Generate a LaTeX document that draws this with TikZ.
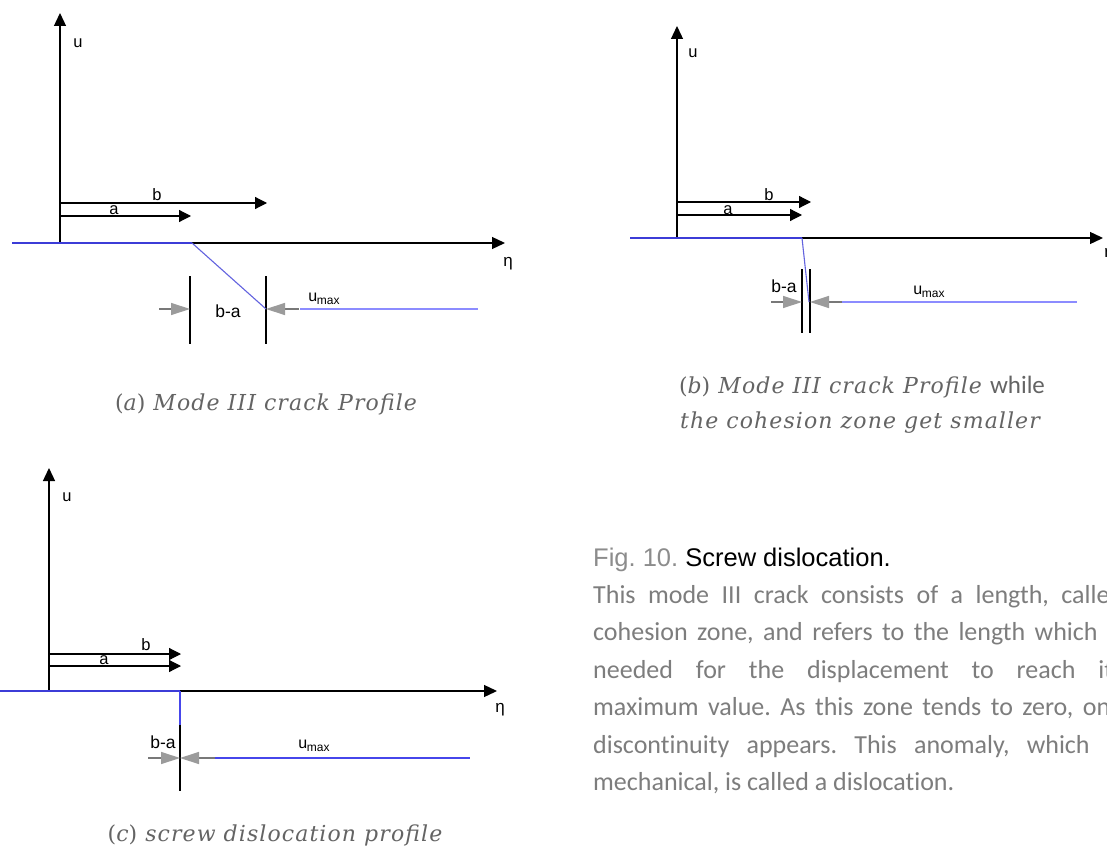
\documentclass[tikz,border=0pt]{standalone}
\usepackage{fontspec}
\newfontfamily\arialf{Liberation Sans}
\newfontfamily\calib[Ligatures=NoCommon]{Carlito}
\newfontfamily\capfont[LetterSpace=5]{DejaVu Serif}
\usetikzlibrary{arrows.meta}
\definecolor{dblue}{RGB}{60,60,215}
\definecolor{lblue}{RGB}{140,140,255}
\definecolor{mblue}{RGB}{70,70,235}
\definecolor{gtip}{RGB}{155,155,155}
\definecolor{gline}{RGB}{120,120,120}
\definecolor{captgrey}{RGB}{100,100,100}
\definecolor{bodygrey}{RGB}{125,125,125}
\definecolor{figgrey}{RGB}{140,140,140}
\tikzset{
  axisarr/.style={line width=1.3pt,-{Triangle[length=13pt,width=12pt]}},
  vecarr/.style={line width=1.2pt,-{Triangle[length=12pt,width=12pt]}},
  garr/.style={draw=gline,line width=1.3pt,-{Triangle[length=19pt,width=12pt,fill=gtip,color=gtip]}},
  tickline/.style={line width=1.3pt},
  crackline/.style={draw=dblue,line width=1.8pt},
  slopeline/.style={draw=dblue!80,line width=1.1pt},
  farline/.style={draw=lblue,line width=1.3pt},
  lbl/.style={font=\arialf\fontsize{16.5}{18}\selectfont,inner sep=0pt},
  etalbl/.style={font=\arialf\fontsize{17}{19}\selectfont,inner sep=0pt},
  balbl/.style={font=\arialf\fontsize{17.5}{19}\selectfont,inner sep=0pt},
  umaxlbl/.style={font=\arialf\fontsize{16}{18}\selectfont,inner sep=0pt},
  capt/.style={font=\capfont\itshape\fontsize{22}{24}\selectfont,text=captgrey,inner sep=0pt},
  bodyline/.style={font=\calib\fontsize{26}{30}\selectfont,text=bodygrey,inner sep=0pt,anchor=base west},
}
\newcommand{\umaxtext}{u\kern-0.5pt\raisebox{-3pt}{\fontsize{12}{13}\selectfont max}}
\newcommand{\cpar}[1]{{\upshape(}#1{\upshape)}}
\frenchspacing
\begin{document}
\begin{tikzpicture}[x=1pt,y=-1pt]
\path[use as bounding box] (0,0) rectangle (1107,850);
\clip (0,0) rectangle (1107,850);
\fill[white] (0,0) rectangle (1107,850);

% ---------------- panel (a)
\coordinate (aO) at (60,243);
\coordinate (aYt) at (60,13);
\coordinate (aXt) at (505,243);
\coordinate (aB0) at (60,203);
\coordinate (aBt) at (267,203);
\coordinate (aA0) at (60,216);
\coordinate (aAt) at (191,216);
\coordinate (aL) at (12,243);
\coordinate (aK) at (192,243);
\coordinate (aM) at (266,309);
\coordinate (aF0) at (300,309);
\coordinate (aF1) at (478,309);
\coordinate (aT1a) at (190,276);
\coordinate (aT1b) at (190,344);
\coordinate (aT2a) at (266,276);
\coordinate (aT2b) at (266,344);
\coordinate (aG1) at (159,309);
\coordinate (aG1t) at (190,309);
\coordinate (aG2) at (299,309);
\coordinate (aG2t) at (266,309);
\draw[axisarr] (aO) -- (aYt);
\draw[axisarr] (aO) -- (aXt);
\draw[vecarr] (aB0) -- (aBt);
\draw[vecarr] (aA0) -- (aAt);
\draw[tickline] (aT1a) -- (aT1b);
\draw[tickline] (aT2a) -- (aT2b);
\draw[crackline] (aL) -- (aK);
\draw[slopeline] (aK) -- (aM);
\draw[farline] (aF0) -- (aF1);
\draw[garr] (aG1) -- (aG1t);
\draw[garr] (aG2) -- (aG2t);
\node[lbl] (au) at (78,43) {u};
\node[etalbl] (aeta) at (508,264) {η};
\node[lbl] (ab) at (157,195) {b};
\node[lbl] (aa) at (114,210) {a};
\node[balbl] (aba) at (228,311) {b-a};
\node[umaxlbl] (aum) at (324,299) {\umaxtext};
\node[capt] (acap) at (266,404) {\cpar{a} Mode III crack Profile};

% ---------------- panel (b)
\coordinate (bO) at (677,238);
\coordinate (bYt) at (677,26);
\coordinate (bXt) at (1103,238);
\coordinate (bB0) at (677,202);
\coordinate (bBt) at (811,202);
\coordinate (bA0) at (677,215);
\coordinate (bAt) at (802,215);
\coordinate (bL) at (630,238);
\coordinate (bK) at (802,238);
\coordinate (bM) at (809,302);
\coordinate (bF0) at (842,302);
\coordinate (bF1) at (1077,302);
\coordinate (bT1a) at (802,269);
\coordinate (bT1b) at (802,333);
\coordinate (bT2a) at (810,269);
\coordinate (bT2b) at (810,333);
\coordinate (bG1) at (771,302);
\coordinate (bG1t) at (802,302);
\coordinate (bG2) at (842,302);
\coordinate (bG2t) at (810,302);
\draw[axisarr] (bO) -- (bYt);
\draw[axisarr] (bO) -- (bXt);
\draw[vecarr] (bB0) -- (bBt);
\draw[vecarr] (bA0) -- (bAt);
\draw[tickline] (bT1a) -- (bT1b);
\draw[tickline] (bT2a) -- (bT2b);
\draw[crackline] (bL) -- (bK);
\draw[slopeline] (bK) -- (bM);
\draw[farline] (bF0) -- (bF1);
\draw[garr] (bG1) -- (bG1t);
\draw[garr] (bG2) -- (bG2t);
\node[lbl] (bu) at (693,53) {u};
\node[etalbl] (beta) at (1109,255) {η};
\node[lbl] (bb) at (769,195) {b};
\node[lbl] (ba) at (728,210) {a};
\node[balbl] (bba) at (784,286) {b-a};
\node[umaxlbl] (bum) at (929,292) {\umaxtext};
\node[capt] (bcap1) at (862,387) {\cpar{b} Mode III crack Profile {\calib\upshape\fontsize{25}{26}\selectfont while}};
\node[capt] (bcap2) at (860,423) {the cohesion zone get smaller};

% ---------------- panel (c)
\coordinate (cO) at (49,691);
\coordinate (cYt) at (49,468);
\coordinate (cXt) at (497,691);
\coordinate (cB0) at (49,654);
\coordinate (cBt) at (181,654);
\coordinate (cA0) at (49,666);
\coordinate (cAt) at (181,666);
\coordinate (cL) at (0,691);
\coordinate (cK) at (180,691);
\coordinate (cM) at (180,725);
\coordinate (cTb) at (180,791);
\coordinate (cF0) at (215,758);
\coordinate (cF1) at (470,758);
\coordinate (cG1) at (148,758);
\coordinate (cG1t) at (180,758);
\coordinate (cG2) at (215,758);
\coordinate (cG2t) at (180,758);
\draw[axisarr] (cO) -- (cYt);
\draw[axisarr] (cO) -- (cXt);
\draw[vecarr] (cB0) -- (cBt);
\draw[vecarr] (cA0) -- (cAt);
\draw[tickline] (cM) -- (cTb);
\draw[crackline] (cL) -- (cK);
\draw[draw=mblue,line width=1.5pt] (cK) -- (cM);
\draw[draw=mblue,line width=1.5pt] (cF0) -- (cF1);
\draw[garr] (cG1) -- (cG1t);
\draw[garr] (cG2) -- (cG2t);
\node[lbl] (cu) at (67,497) {u};
\node[etalbl] (ceta) at (500,710) {η};
\node[lbl] (cb) at (146,645) {b};
\node[lbl] (ca) at (104,660) {a};
\node[balbl] (cba) at (163,742) {b-a};
\node[umaxlbl] (cum) at (314,746) {\umaxtext};
\node[capt] (ccap) at (275,835) {\cpar{c} screw dislocation profile};

% ---------------- figure text
\node[anchor=base west,inner sep=0pt,font=\arialf\fontsize{25.5}{28}\selectfont] (fig) at (593,566)
  {\textcolor{figgrey}{Fig. 10.} Screw dislocation.};
\node[bodyline] (l1) at (593,603) {\makebox[530pt][s]{This mode III crack consists of a length, called}};
\node[bodyline] (l2) at (593,640) {\makebox[530pt][s]{cohesion zone, and refers to the length which is}};
\node[bodyline] (l3) at (593,678) {\makebox[530pt][s]{needed for the displacement to reach its}};
\node[bodyline] (l4) at (593,715) {\makebox[530pt][s]{maximum value. As this zone tends to zero, one}};
\node[bodyline] (l5) at (593,753) {\makebox[530pt][s]{discontinuity appears. This anomaly, which is}};
\node[bodyline] (l6) at (593,790) {mechanical, is called a dislocation.};
\end{tikzpicture}
\end{document}
